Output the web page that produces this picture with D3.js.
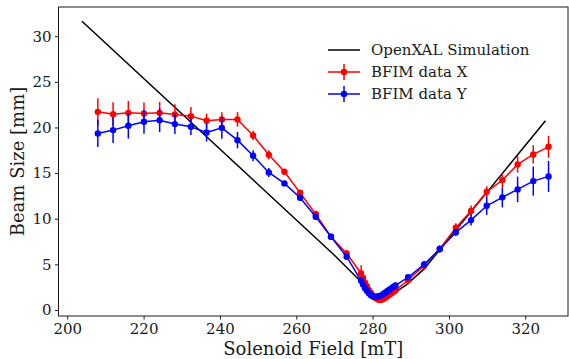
<!DOCTYPE html>
<html><head><meta charset="utf-8">
<script src="https://cdn.jsdelivr.net/npm/d3@7"></script>
<style>body{margin:0;background:#fff}</style>
</head><body>
<svg id="c" width="569" height="359"></svg>
<script>
const xTicks = [200, 220, 240, 260, 280, 300, 320];
const yTicks = [0, 5, 10, 15, 20, 25, 30];

const simField = [203.85, 250, 270, 276, 278, 280, 281, 282, 283, 284.5, 286.5, 289, 293.5, 297.6, 325.3];
const simSize  = [31.64, 13.75, 6.0, 3.5, 2.7, 1.9, 1.5, 1.25, 1.3, 1.6, 2.1, 2.8, 4.5, 6.6, 20.73];

const field = [208.0, 212.0, 216.0, 220.1, 224.2, 228.2, 232.4, 236.5, 240.5, 244.6, 248.7, 252.8, 256.9, 261.0, 265.1, 269.1, 273.2,
  277, 277.5, 278, 278.5, 279, 279.5, 280, 280.5, 281, 281.5, 282, 282.5, 283, 283.5, 284, 284.5, 285, 285.5, 286,
  289.3, 293.5, 297.6, 301.8, 305.8, 309.9, 314.0, 318.0, 322.1, 326.1];

const sizeX = [21.71, 21.46, 21.6, 21.54, 21.6, 21.43, 21.24, 20.73, 20.88, 20.88, 19.13, 17.0, 15.14, 12.85, 10.51, 8.03, 6.2,
  4.0, 3.5, 3.0, 2.6, 2.2, 1.9, 1.6, 1.4, 1.25, 1.15, 1.1, 1.15, 1.25, 1.4, 1.55, 1.7, 1.85, 2.0, 2.15,
  3.28, 4.85, 6.68, 9.01, 10.84, 12.95, 14.23, 15.95, 17.05, 17.88];
const errX = [1.5, 1.3, 1.3, 1.2, 1.2, 1.1, 1.0, 0.8, 0.8, 0.8, 0.5, 0.5, 0.3, 0.3, 0.3, 0.3, 0.4,
  0.9, 0.7, 0.6, 0.5, 0.5, 0.4, 0.4, 0.4, 0.3, 0.3, 0.3, 0.3, 0.3, 0.3, 0.3, 0.3, 0.3, 0.3, 0.3,
  0.5, 0.4, 0.3, 0.5, 0.6, 0.6, 0.8, 0.9, 1.0, 1.2];

const sizeY = [19.35, 19.71, 20.18, 20.62, 20.8, 20.37, 20.07, 19.46, 19.96, 18.61, 16.9, 15.07, 13.87, 12.3, 10.22, 8.03, 5.84,
  3.2, 2.8, 2.4, 2.1, 1.85, 1.65, 1.5, 1.45, 1.45, 1.5, 1.55, 1.65, 1.8, 1.95, 2.1, 2.25, 2.4, 2.55, 2.7,
  3.58, 5.0, 6.68, 8.5, 9.85, 11.42, 12.34, 13.21, 14.12, 14.64];
const errY = [1.5, 1.4, 1.4, 1.3, 1.3, 1.1, 0.9, 1.0, 1.2, 0.9, 0.6, 0.5, 0.3, 0.3, 0.3, 0.2, 0.3,
  0.4, 0.3, 0.3, 0.3, 0.3, 0.3, 0.3, 0.3, 0.3, 0.3, 0.3, 0.3, 0.3, 0.3, 0.3, 0.3, 0.3, 0.3, 0.3,
  0.3, 0.4, 0.4, 0.4, 0.6, 1.0, 1.1, 1.4, 1.6, 1.7];

const legendLabels = ["OpenXAL Simulation", "BFIM data X", "BFIM data Y"];

const svg = d3.select("#c");
const font = "DejaVu Serif";
const txt = "#1a1a1a";
const L = 58.5, R = 568, T = 7, B = 316;
const x = d3.scaleLinear().domain([197.7, 331.2]).range([L, R]);
const y = d3.scaleLinear().domain([-0.66, 33.2]).range([B, T]);

// simulation line
const line = d3.line().x(d => x(d[0])).y(d => y(d[1]));
svg.append("path").datum(simField.map((f, i) => [f, simSize[i]]))
  .attr("d", line).attr("fill", "none").attr("stroke", "#000").attr("stroke-width", 1.5);

function series(vals, errs, color) {
  const pts = field.map((f, i) => [f, vals[i], errs[i]]);
  const g = svg.append("g");
  g.selectAll("line.e").data(pts).enter().append("line")
    .attr("x1", d => x(d[0])).attr("x2", d => x(d[0]))
    .attr("y1", d => y(d[1] - d[2])).attr("y2", d => y(d[1] + d[2]))
    .attr("stroke", color).attr("stroke-width", 1.5);
  g.append("path").datum(pts).attr("d", line).attr("fill", "none")
    .attr("stroke", color).attr("stroke-width", 1.5);
  g.selectAll("circle").data(pts).enter().append("circle")
    .attr("cx", d => x(d[0])).attr("cy", d => y(d[1])).attr("r", 3.2).attr("fill", color);
}
series(sizeX, errX, "#ff0000");
series(sizeY, errY, "#0000ff");

// axes
const xAxis = d3.axisBottom(x).tickValues(xTicks).tickSize(3.5).tickPadding(3.5);
const yAxis = d3.axisLeft(y).tickValues(yTicks).tickSize(3.5).tickPadding(3.5);
const gx = svg.append("g").attr("transform", `translate(0,${B})`).call(xAxis);
const gy = svg.append("g").attr("transform", `translate(${L},0)`).call(yAxis);
[gx, gy].forEach(g => {
  g.select(".domain").remove();
  g.selectAll("text").attr("font-family", font).attr("font-size", 15).attr("fill", txt);
  g.selectAll("line").attr("stroke", txt);
});
svg.append("rect").attr("x", L).attr("y", T).attr("width", R - L).attr("height", B - T)
  .attr("fill", "none").attr("stroke", txt).attr("stroke-width", 1);

svg.append("text").attr("x", (L + R) / 2).attr("y", 355).attr("text-anchor", "middle")
  .attr("font-family", font).attr("font-size", 18).attr("fill", txt).text("Solenoid Field [mT]");
svg.append("text").attr("transform", `translate(24,${(T + B) / 2}) rotate(-90)`).attr("text-anchor", "middle")
  .attr("font-family", font).attr("font-size", 18).attr("fill", txt).text("Beam Size [mm]");

// legend
const legColors = ["#000", "#ff0000", "#0000ff"];
legendLabels.forEach((lab, i) => {
  const cy = 50 + i * 22;
  svg.append("line").attr("x1", 328).attr("x2", 360).attr("y1", cy).attr("y2", cy)
    .attr("stroke", legColors[i]).attr("stroke-width", 1.5);
  if (i > 0) {
    svg.append("line").attr("x1", 344).attr("x2", 344).attr("y1", cy - 8).attr("y2", cy + 8)
      .attr("stroke", legColors[i]).attr("stroke-width", 1.5);
    svg.append("circle").attr("cx", 344).attr("cy", cy).attr("r", 3.2).attr("fill", legColors[i]);
  }
  svg.append("text").attr("x", 371).attr("y", cy + 5).attr("font-family", font).attr("font-size", 15)
    .attr("fill", txt).text(lab);
});
</script>
</body></html>
